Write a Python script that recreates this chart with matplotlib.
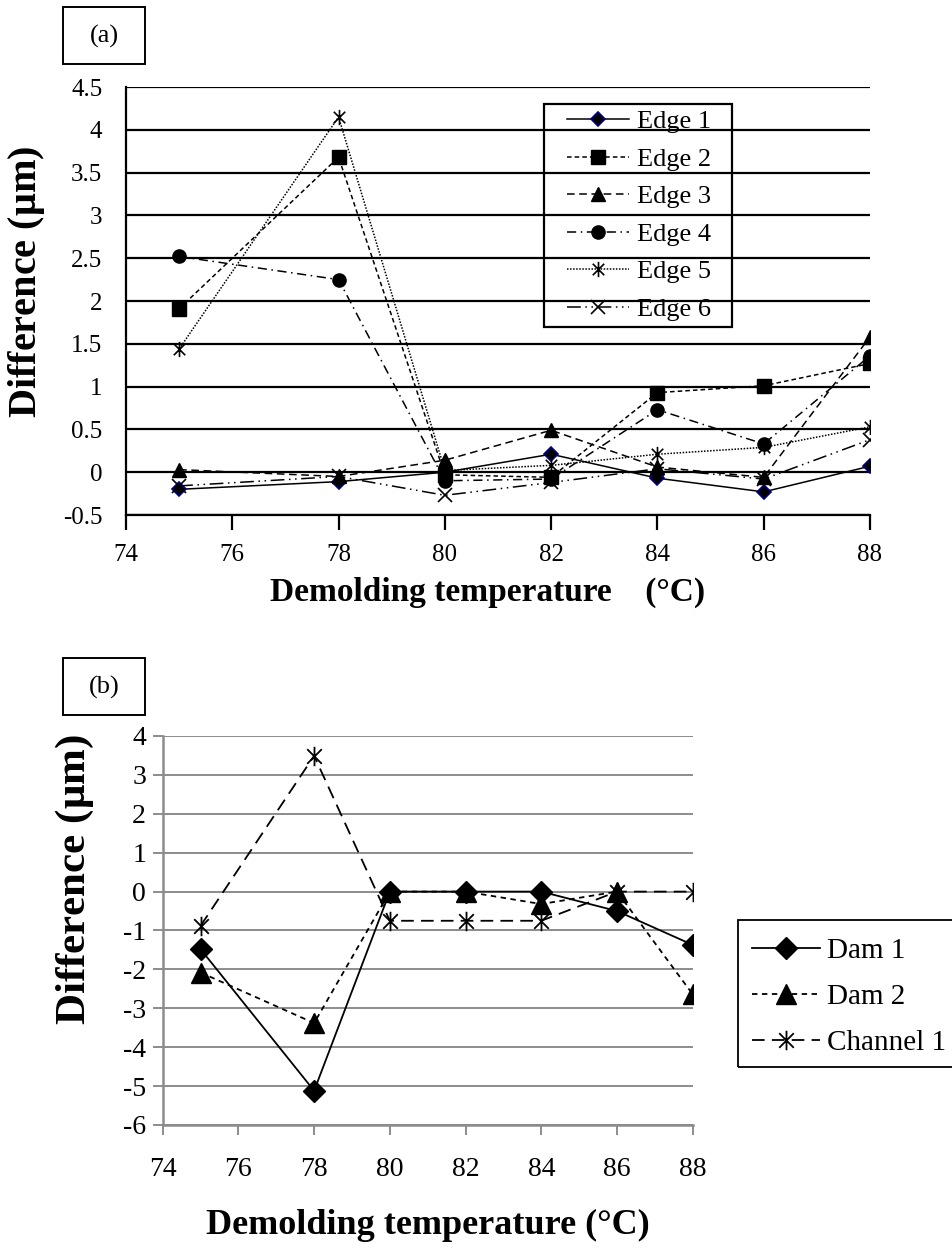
import matplotlib
matplotlib.use("Agg")
import matplotlib.pyplot as plt
from matplotlib.path import Path
from matplotlib.patches import Rectangle

plt.rcParams['font.family'] = ['Liberation Serif', 'DejaVu Serif']
plt.rcParams['mathtext.fontset'] = 'custom'
plt.rcParams['mathtext.rm'] = 'Liberation Serif'
plt.rcParams['mathtext.bf'] = 'Liberation Serif:bold'
plt.rcParams['axes.unicode_minus'] = False

W, H = 953, 1253

# demolding temperatures (°C)
temps = [75, 78, 80, 82, 84, 86, 88]

# (a) edge differences (um)
edge1 = [-0.20, -0.11, 0.00, 0.21, -0.07, -0.23, 0.07]
edge2 = [1.91, 3.68, -0.03, -0.06, 0.93, 1.01, 1.27]
edge3 = [0.03, -0.05, 0.14, 0.49, 0.06, -0.06, 1.58]
edge4 = [2.52, 2.25, -0.10, -0.08, 0.73, 0.33, 1.36]
edge5 = [1.44, 4.15, 0.02, 0.08, 0.21, 0.29, 0.53]
edge6 = [-0.16, -0.05, -0.27, -0.12, 0.04, -0.08, 0.38]
edge_labels = ['Edge 1', 'Edge 2', 'Edge 3', 'Edge 4', 'Edge 5', 'Edge 6']

# (b) dam / channel differences (um)
dam1 = [-1.48, -5.12, 0.0, 0.0, 0.0, -0.50, -1.37]
dam2 = [-2.08, -3.38, 0.0, 0.0, -0.32, 0.0, -2.64]
channel1 = [-0.88, 3.49, -0.75, -0.75, -0.75, 0.0, 0.0]
feature_labels = ['Dam 1', 'Dam 2', 'Channel 1']

a_yticks = [-0.5, 0, 0.5, 1, 1.5, 2, 2.5, 3, 3.5, 4, 4.5]
a_yticklabels = ['-0.5', '0', '0.5', '1', '1.5', '2', '2.5', '3', '3.5', '4', '4.5']
b_yticks = [-6, -5, -4, -3, -2, -1, 0, 1, 2, 3, 4]
x_ticks = [74, 76, 78, 80, 82, 84, 86, 88]

# star marker: an x with a vertical bar through it
star = Path([(0, -1), (0, 1), (-0.75, -0.75), (0.75, 0.75), (-0.75, 0.75), (0.75, -0.75)],
            [Path.MOVETO, Path.LINETO] * 3)


def fig_box(x0, y0, w, h, lw):
    # rectangle given in pixels from the top-left corner
    fig.patches.append(Rectangle((x0 / W, 1 - (y0 + h) / H), w / W, h / H,
                                 transform=fig.transFigure, fill=False, ec='black',
                                 lw=lw, clip_on=False))


fig = plt.figure(figsize=(W / 100, H / 100), dpi=100)

# ---------------- panel (a) ----------------
ax1 = fig.add_axes([126 / W, 1 - 515 / H, 744 / W, 428 / H])
styles_a = [
    dict(ls='-', marker='D', ms=7.5, mfc='black', mec='#000080', mew=1.2),
    dict(ls=(0, (3, 2)), marker='s', ms=9.5, mfc='black', mec='black'),
    dict(ls=(0, (5, 3)), marker='^', ms=9.5, mfc='black', mec='black'),
    dict(ls=(0, (6, 3, 1, 3)), marker='o', ms=9.5, mfc='black', mec='black'),
    dict(ls=(0, (1, 1)), marker=star, ms=11, mfc='none', mec='black', mew=1.2),
    dict(ls=(0, (9, 3, 1, 3, 1, 3)), marker='x', ms=10, mfc='none', mec='black', mew=1.2),
]
for vals, lab, st in zip([edge1, edge2, edge3, edge4, edge5, edge6], edge_labels, styles_a):
    ax1.plot(temps, vals, color='black', lw=1.1, label=lab, **st)

ax1.set_xlim(74, 88)
ax1.set_ylim(-0.5, 4.5)
ax1.set_xticks(x_ticks)
ax1.set_yticks(a_yticks)
ax1.set_yticklabels(a_yticklabels)
ax1.grid(axis='y', color='black', lw=1.6)
ax1.set_axisbelow(True)
for s in ['top', 'right']:
    ax1.spines[s].set_visible(False)
for s in ['left', 'bottom']:
    ax1.spines[s].set_linewidth(1.6)
ax1.tick_params(axis='x', length=11, width=1.6, pad=10, labelsize=18)
ax1.tick_params(axis='y', length=0, pad=17, labelsize=18)
ax1.set_ylabel(r'Difference ($\mathbf{\mu}$m)', fontsize=29, fontweight='bold')
ax1.yaxis.set_label_coords(-(126 - 47) / 744, 0.5 + (428 / 2 - (282 - 87)) / 428)
fig.text(488 / W, 1 - 592 / H, 'Demolding temperature    (\u00b0C)', fontsize=24,
         fontweight='bold', ha='center', va='center')

ax1.legend(loc='upper left', bbox_to_anchor=((567 - 126) / 744, (515 - 110) / 428),
           frameon=False, fontsize=19, handlelength=2.35, handletextpad=0.3,
           labelspacing=0.53, borderpad=0, borderaxespad=0)
fig_box(544, 104, 188, 223, 1.6)

# ---------------- panel (b) ----------------
grey = '#8c8c8c'
ax2 = fig.add_axes([162.7 / W, 1 - 1125 / H, 530 / W, 389 / H])
styles_b = [
    dict(ls='-', marker='D', ms=11, mfc='black', mec='black'),
    dict(ls=(0, (3, 2.5)), marker='^', ms=15, mfc='black', mec='black'),
    dict(ls=(0, (7, 4)), marker=star, ms=14, mfc='none', mec='black', mew=1.3),
]
for vals, lab, st in zip([dam1, dam2, channel1], feature_labels, styles_b):
    ax2.plot(temps, vals, color='black', lw=1.3, label=lab, **st)

ax2.set_xlim(74, 88)
ax2.set_ylim(-6, 4)
ax2.set_xticks(x_ticks)
ax2.set_yticks(b_yticks)
ax2.grid(axis='y', color=grey, lw=1.4)
ax2.set_axisbelow(True)
for s in ['top', 'right']:
    ax2.spines[s].set_visible(False)
for s in ['left', 'bottom']:
    ax2.spines[s].set_color(grey)
    ax2.spines[s].set_linewidth(1.8)
ax2.tick_params(axis='both', color=grey, length=7, width=1.4, labelsize=20)
ax2.tick_params(axis='x', pad=16)
ax2.tick_params(axis='y', pad=5)
ax2.set_ylabel(r'Difference ($\mathbf{\mu}$m)', fontsize=31, fontweight='bold')
ax2.yaxis.set_label_coords(-(162.7 - 96) / 530, 0.5 + (389 / 2 - (880 - 736)) / 389)
fig.text(428 / W, 1 - 1225 / H, 'Demolding temperature (\u00b0C)', fontsize=26,
         fontweight='bold', ha='center', va='center')

ax2.legend(loc='upper left', bbox_to_anchor=((752 - 162.7) / 530, (1125 - 938) / 389),
           frameon=False, fontsize=21, handlelength=2.33, handletextpad=0.25,
           labelspacing=0.67, borderpad=0, borderaxespad=0)
fig_box(738, 920, 240, 147, 1.3)

# panel tags
for (x0, y0, txt) in [(63, 7, '(a)'), (63, 658, '(b)')]:
    fig_box(x0, y0, 82, 57, 1.4)
    fig.text((x0 + 41) / W, 1 - (y0 + 29) / H, txt, fontsize=19, ha='center', va='center')

fig.savefig('out.png', dpi=100)
